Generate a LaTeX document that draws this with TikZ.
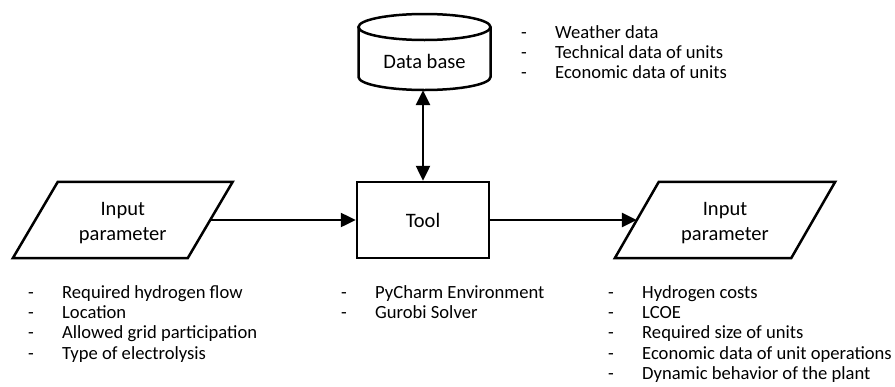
\documentclass[tikz,border=0pt]{standalone}
\usepackage{fontspec}
\setmainfont{Carlito}
\usetikzlibrary{arrows.meta}
\tikzset{
  shapetext/.style={inner sep=0pt, align=center, font=\fontsize{20.5}{25}\selectfont},
  listtext/.style={inner sep=0pt, anchor=north west, align=left, font=\fontsize{18.6}{20.3}\selectfont},
  outline/.style={line width=2.5pt, line join=miter},
  conn/.style={line width=2.5pt, -{Triangle[length=15pt,width=14pt]}},
  bicon/.style={line width=2.5pt, {Triangle[length=15pt,width=14pt]}-{Triangle[length=15pt,width=14pt]}}
}
\newcommand{\itm}[1]{\makebox[35pt][l]{\hspace{1pt}-}#1}
\begin{document}
\begin{tikzpicture}[x=1pt,y=-1pt]
\path[use as bounding box] (0,0) rectangle (895,386);
% database cylinder
\node[shapetext, minimum width=132, minimum height=76] (db) at (424.5,52) {};
\node[shapetext] (dbt) at (424.5,61) {Data base};
\draw[outline] (424.5,27) ellipse [x radius=66, y radius=13];
\draw[outline] (358.5,27) -- (358.5,77)
  .. controls (358.5,84.2) and (388.05,90) .. (424.5,90)
  .. controls (460.95,90) and (490.5,84.2) .. (490.5,77) -- (490.5,27);
% tool
\node[shapetext, draw, outline, minimum width=132, minimum height=76] (tool) at (423,220) {\raisebox{-2pt}{Tool}};
% input
\node[shapetext, minimum width=174.5, minimum height=76] (in) at (122.75,220) {};
\node[shapetext] (intext) at (122.75,223) {Input\\parameter};
\draw[outline] ([xshift=22.5]in.north west) -- ([xshift=22.5]in.north east) -- ([xshift=-22.5]in.south east) -- ([xshift=-22.5]in.south west) -- cycle;
% output
\node[shapetext, minimum width=176, minimum height=76] (out) at (725,220) {};
\node[shapetext] (outtext) at (725,223) {Input\\parameter};
\draw[outline] ([xshift=22]out.north west) -- ([xshift=22]out.north east) -- ([xshift=-22]out.south east) -- ([xshift=-22]out.south west) -- cycle;
% connectors
\draw[bicon] (db.south -| tool.north) -- (tool.north);
\draw[conn] (in.east) -- (tool.west);
\draw[conn] (tool.east) -- (out.west);
% lists
\node[listtext] (l1) at (27,285) {\itm{Required hydrogen flow}\\\itm{Location}\\\itm{Allowed grid participation}\\\itm{Type of electrolysis}};
\node[listtext] (l2) at (340,285) {\itm{PyCharm Environment}\\\itm{Gurobi Solver}};
\node[listtext] (l3) at (607,285) {\itm{Hydrogen costs}\\\itm{LCOE}\\\itm{Required size of units}\\\itm{Economic data of unit operations}\\\itm{Dynamic behavior of the plant}};
\node[listtext] (l4) at (520,25) {\itm{Weather data}\\\itm{Technical data of units}\\\itm{Economic data of units}};
\end{tikzpicture}
\end{document}
